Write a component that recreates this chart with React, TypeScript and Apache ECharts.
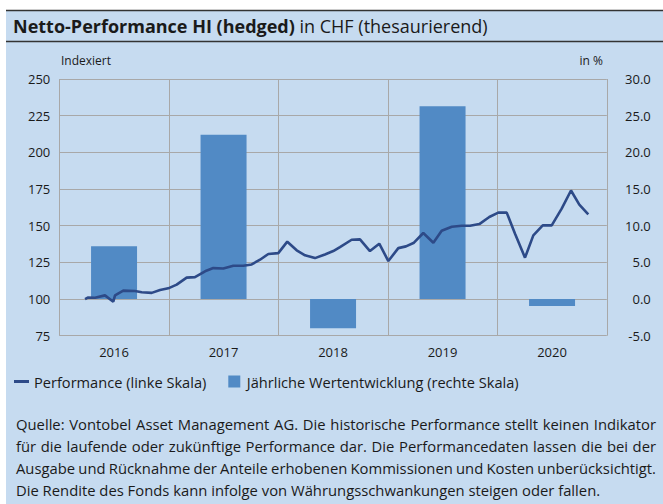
import React, { useEffect, useRef } from "react";
import * as echarts from "echarts";

const years = ["2016", "2017", "2018", "2019", "2020"];
const annualReturns = [7.2, 22.4, -4.0, 26.3, -0.95];

const lineYears = [
  2016.235, 2016.26, 2016.326, 2016.417, 2016.493, 2016.509, 2016.584, 2016.691, 2016.753, 2016.844, 2016.92, 2016.995,
  2017.072, 2017.163, 2017.239, 2017.331, 2017.406, 2017.498, 2017.589, 2017.68, 2017.757, 2017.833, 2017.909, 2018.0,
  2018.082, 2018.168, 2018.244, 2018.335, 2018.426, 2018.502, 2018.563, 2018.67, 2018.746, 2018.837, 2018.922, 2019.005,
  2019.096, 2019.166, 2019.239, 2019.324, 2019.416, 2019.492, 2019.584, 2019.675, 2019.751, 2019.836, 2019.927, 2020.009,
  2020.086, 2020.162, 2020.253, 2020.329, 2020.415, 2020.497, 2020.588, 2020.673, 2020.749, 2020.831,
];
const lineValues = [
  100, 101, 100.9, 102.5, 98.2, 102.5, 105.7, 105.5, 104.6, 104.2, 106.1, 107.3,
  109.8, 114.6, 114.9, 118.9, 121.1, 120.8, 122.7, 122.7, 123.6, 126.8, 130.7, 131.3,
  139.1, 133.2, 129.8, 127.9, 130.4, 132.7, 135.4, 140.4, 140.7, 132.7, 137.7, 125.9,
  134.7, 135.9, 138.4, 145, 138.4, 146.6, 149.3, 150, 150, 151.1, 155.9, 158.9,
  158.9, 144.5, 128.2, 143.4, 150.2, 150.2, 161.6, 174, 164.3, 157.7,
];

const leftTicks = { min: 75, max: 250, interval: 25 };
const rightTicks = { min: -5, max: 30, interval: 5 };

const titleBold = "Netto-Performance HI (hedged)";
const titleRegular = " in CHF (thesaurierend)";
const leftUnit = "Indexiert";
const rightUnit = "in %";
const legendLine = "Performance (linke Skala)";
const legendBar = "Jährliche Wertentwicklung (rechte Skala)";
const footerLines = [
  "Quelle: Vontobel Asset Management AG. Die historische Performance stellt keinen Indikator",
  "für die laufende oder zukünftige Performance dar. Die Performancedaten lassen die bei der",
  "Ausgabe und Rücknahme der Anteile erhobenen Kommissionen und Kosten unberücksichtigt.",
  "Die Rendite des Fonds kann infolge von Währungsschwankungen steigen oder fallen.",
];

const FONT = "'Open Sans', 'Noto Sans', sans-serif";
const BG = "#c6dbf0";
const BAR = "#518ac5";
const LINE = "#2d4a88";
const GRID = "#a8a8a8";
const TEXT = "#1a1a1a";

function buildFooter(): any[] {
  const canvas = document.createElement("canvas");
  const ctx = canvas.getContext("2d")!;
  const fs = 14.8;
  ctx.font = `${fs}px 'Open Sans'`;
  const x0 = 16;
  const x1 = 656;
  const ys = [424, 446, 468, 490];
  const els: any[] = [];
  footerLines.forEach((line, i) => {
    const y = ys[i];
    if (i === footerLines.length - 1) {
      els.push({
        type: "text",
        x: x0,
        y,
        style: { text: line, font: `${fs}px ${FONT}`, fill: TEXT, verticalAlign: "middle", align: "left" },
      });
      return;
    }
    const words = line.split(" ");
    const widths = words.map((w) => ctx.measureText(w).width);
    const total = widths.reduce((a, b) => a + b, 0);
    const gap = Math.max(2.5, (x1 - x0 - total) / (words.length - 1));
    let x = x0;
    words.forEach((w, j) => {
      els.push({
        type: "text",
        x,
        y,
        style: { text: w, font: `${fs}px ${FONT}`, fill: TEXT, verticalAlign: "middle", align: "left" },
      });
      x += widths[j] + gap;
    });
  });
  return els;
}

export default function App() {
  const ref = useRef<HTMLDivElement>(null);
  useEffect(() => {
    document.body.style.margin = "0";
    const chart = echarts.init(ref.current!, null, { renderer: "svg" });
    const option: any = {
      animation: false,
      backgroundColor: BG,
      textStyle: { fontFamily: FONT },
      grid: { left: 59.3, right: 56.2, top: 79, bottom: 168.3 },
      legend: {
        left: 14,
        top: 374,
        padding: 0,
        itemWidth: 15,
        itemHeight: 12,
        itemGap: 22,
        textStyle: { fontSize: 14.6, color: TEXT, fontFamily: FONT },
        data: [
          { name: legendLine, icon: "path://M0,0h15v3h-15z" },
          { name: legendBar, icon: "path://M0,0h12v12h-12z" },
        ],
      },
      xAxis: [
        {
          type: "category",
          data: years,
          boundaryGap: true,
          axisLine: { show: false },
          axisTick: { show: false },
          splitLine: { show: true, lineStyle: { color: GRID, width: 1 } },
          axisLabel: { color: TEXT, fontSize: 13, margin: 10, fontFamily: FONT },
        },
        { type: "value", min: 2016, max: 2021, show: false },
      ],
      yAxis: [
        {
          type: "value",
          ...leftTicks,
          axisLine: { show: false },
          axisTick: { show: false },
          splitLine: { show: true, lineStyle: { color: GRID, width: 1 } },
          axisLabel: { color: TEXT, fontSize: 13, margin: 9, fontFamily: FONT },
        },
        {
          type: "value",
          position: "right",
          ...rightTicks,
          axisLine: { show: false },
          axisTick: { show: false },
          splitLine: { show: false },
          axisLabel: {
            color: TEXT,
            fontSize: 13,
            margin: 44,
            align: "right",
            fontFamily: FONT,
            formatter: (v: number) => v.toFixed(1),
          },
        },
      ],
      series: [
        {
          name: legendBar,
          type: "bar",
          xAxisIndex: 0,
          yAxisIndex: 1,
          data: annualReturns,
          barWidth: "42%",
          itemStyle: { color: BAR },
          z: 2,
        },
        {
          name: legendLine,
          type: "line",
          xAxisIndex: 1,
          yAxisIndex: 0,
          data: lineYears.map((t, i) => [t, lineValues[i]]),
          showSymbol: false,
          symbol: "none",
          lineStyle: { color: LINE, width: 2.6 },
          itemStyle: { color: LINE },
          z: 3,
        },
      ],
      graphic: [
        { type: "rect", shape: { x: 0, y: 0, width: 663, height: 10 }, style: { fill: "#ffffff" }, silent: true },
        { type: "rect", shape: { x: 0, y: 0, width: 6, height: 504 }, style: { fill: "#ffffff" }, silent: true },
        { type: "line", shape: { x1: 6, y1: 10.5, x2: 663, y2: 10.5 }, style: { stroke: "#333333", lineWidth: 1.5 } },
        { type: "line", shape: { x1: 6, y1: 41.5, x2: 663, y2: 41.5 }, style: { stroke: "#333333", lineWidth: 1.5 } },
        {
          type: "text",
          x: 13,
          y: 26,
          style: {
            text: `{b|${titleBold}}{r|${titleRegular}}`,
            verticalAlign: "middle",
            rich: {
              b: { fontFamily: FONT, fontSize: 18, fontWeight: "bold", fill: TEXT, color: TEXT },
              r: { fontFamily: FONT, fontSize: 18, fill: TEXT, color: TEXT },
            },
          },
        },
        {
          type: "text",
          x: 61,
          y: 60,
          style: { text: leftUnit, font: `12px ${FONT}`, fill: TEXT, verticalAlign: "middle" },
        },
        {
          type: "text",
          x: 603,
          y: 60,
          style: { text: rightUnit, font: `12px ${FONT}`, fill: TEXT, verticalAlign: "middle", align: "right" },
        },
        ...buildFooter(),
      ],
    };
    chart.setOption(option);
    return () => chart.dispose();
  }, []);
  return <div ref={ref} style={{ width: 663, height: 504, position: "absolute", left: 0, top: 0 }} />;
}
